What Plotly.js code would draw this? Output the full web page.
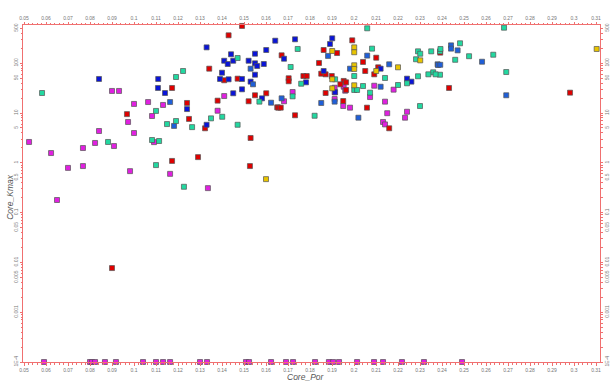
<!DOCTYPE html>
<html><head><meta charset="utf-8">
<script src="https://cdn.plot.ly/plotly-3.0.1.min.js"></script>
<style>html,body{margin:0;padding:0;background:#fff}#chart{width:610px;height:381px}</style>
</head><body><div id="chart"></div>
<script>
// ---- data (Core_Por, Core_Kmax) ----
const magentaX = [0.0523,0.0623,0.0650,0.0700,0.0768,0.0768,0.0823,0.0841,0.0900,0.0932,0.0909,0.0973,0.0982,0.1000,0.1000,0.1064,0.1082,0.1091,0.1132,0.1164,0.1410,0.1380,0.1953,0.1960,0.2092,0.2180,0.1912,0.1912,0.2073,0.1721,0.1682,0.1912,0.1951,0.1982,0.2141,0.2241,0.2151,0.2232,0.2132,0.2141,0.1336,
  0.0591,0.0800,0.0809,0.0823,0.0868,0.0918,0.1041,0.1100,0.1132,0.1164,0.1300,0.1332,0.1509,0.1523,0.1623,0.1691,0.1723,0.1823,0.1886,0.1905,0.1932,0.2014,0.2091,0.2132,0.2218,0.2318,0.2491];
const magentaY = [2.62,1.57,0.179,0.79,0.86,1.98,2.5,4.35,27.7,27.7,2.17,6.6,0.68,15.2,3.96,16.6,8.7,2.6,14.5,0.6,21.9,11.1,33.7,28,35.3,29.4,32.2,26.1,20.9,26.4,17.2,19.1,13.8,12.8,16.9,10.6,9.9,8.05,6.6,5.9,0.31,
  0.0001,0.0001,0.0001,0.0001,0.0001,0.0001,0.0001,0.0001,0.0001,0.0001,0.0001,0.0001,0.0001,0.0001,0.0001,0.0001,0.0001,0.0001,0.0001,0.0001,0.0001,0.0001,0.0001,0.0001,0.0001,0.0001,0.0001];

const redX = [0.0900,0.0968,0.1173,0.1241,0.1250,0.1173,0.1430,0.1491,0.1342,0.1410,0.1471,0.1601,0.1550,0.1380,0.1521,0.1651,0.1323,0.1530,0.1992,0.1862,0.1923,0.2101,0.1671,0.1841,0.2041,0.2051,0.2110,0.2092,0.1851,0.1871,0.1770,0.1785,0.1899,0.1703,0.1703,0.1953,0.1964,0.1938,0.1964,0.1871,0.1656,0.1667,0.1951,0.2059,0.2160,0.1732,0.2392,0.2432,0.2982,0.1527,0.1291];
const redY = [0.0077,9.5,31.8,15.9,7.6,1.09,363,560,77.6,45.4,48.9,24.9,22.7,17.7,17.2,13,4.93,3.15,288,184,160,129,144,101,106,69.7,82.7,59.8,61.5,59.8,55.3,55.3,55.3,49.8,43.4,44,41.3,37.7,29,25.2,12.8,12.8,17.4,12.8,4.93,9.0,163,31.8,25.6,0.86,1.3];

const blueX = [0.0841,0.1110,0.1109,0.1141,0.1241,0.1330,0.1642,0.1601,0.1550,0.1441,0.1410,0.1451,0.1521,0.1426,0.1550,0.1560,0.1590,0.1400,0.1550,0.1391,0.1430,0.1491,0.1530,0.1491,0.1451,0.1582,0.1330,0.1732,0.1901,0.1891,0.1682,0.1862,0.2121,0.1782,0.1914,0.2241,0.2261];
const blueY = [48.2,48.2,31.8,25.2,12,208,283,184,155,151,112,112,112,96.3,99.5,87.9,96.3,64.4,58.7,48.2,47.5,48.2,42.6,29.9,24.9,19.7,5.8,302,316,243,123,69.7,77.6,41.3,26.1,48.9,42.6];

const medBlueX = [0.1164,0.1182,0.1530,0.1541,0.1623,0.2060,0.1882,0.2160,0.1982,0.2121,0.1671,0.1912,0.1851,0.2020,0.2380,0.2441,0.2441,0.2471,0.2382,0.2392,0.2582,0.2692];
const medBlueY = [16.6,5.5,77.6,37.7,16.1,142,140,95,77.6,33.7,19.7,16.9,15.9,8.05,95,228,196,181,92,93,107,22.7];

const greenX = [0.0582,0.0882,0.1100,0.1082,0.1114,0.1100,0.1150,0.1191,0.1191,0.1223,0.1264,0.1471,0.1570,0.1401,0.1350,0.1471,0.2060,0.1744,0.2082,0.1712,0.2001,0.2141,0.1760,0.1914,0.2001,0.2014,0.2041,0.2200,0.2073,0.1721,0.2241,0.2291,0.2300,0.1821,0.2291,0.2301,0.2351,0.2282,0.2391,0.2391,0.2360,0.2338,0.2371,0.2682,0.2393,0.2482,0.2523,0.2633,0.2460,0.2692,0.1227];
const greenY = [25.2,2.62,11,2.87,2.74,0.9,6.0,6.9,52.8,69.7,5.2,127,16.9,8.4,7.8,5.8,502,193,196,83.9,55.3,50.5,38.7,47.5,29,29,34.8,36.5,25.6,21.6,39.5,54.6,13.8,8.8,173,155,173,120,173,58.7,65.6,59.8,59.8,516,193,251,138,148,117,66.5,0.33];

const goldX = [0.2001,0.2001,0.1901,0.2001,0.2001,0.2101,0.2200,0.1901,0.2001,0.1901,0.2301,0.3103,0.1600];
const goldY = [208,166,176,90.8,76.6,69.7,82.7,47.5,36,31.3,114,193,0.47];

const yTickVals = [0.0001,0.001,0.005,0.01,0.05,0.1,0.5,1,5,10,50,100,500];
const yTickText = ['1E-4','0.001','0.005','0.01','0.05','0.1','0.5','1','5','10','50','100','500'];
const xTickVals = [0.05,0.06,0.07,0.08,0.09,0.1,0.11,0.12,0.13,0.14,0.15,0.16,0.17,0.18,0.19,0.2,0.21,0.22,0.23,0.24,0.25,0.26,0.27,0.28,0.29,0.3,0.31];
const xTickText = ['0.05','0.06','0.07','0.08','0.09','0.1','0.11','0.12','0.13','0.14','0.15','0.16','0.17','0.18','0.19','0.2','0.21','0.22','0.23','0.24','0.25','0.26','0.27','0.28','0.29','0.3','0.31'];

// ---- styling ----
const axisRed = '#f07070';
const tickGray = '#777';
function series(x, y, color) {
  return {type:'scatter', mode:'markers', x:x, y:y, cliponaxis:false, hoverinfo:'x+y',
    marker:{symbol:'square', size:5, color:color, line:{color:'#555', width:0.7}}, showlegend:false};
}
const data = [
  series(magentaX, magentaY, '#e020e0'),
  series(redX, redY, '#e00000'),
  series(blueX, blueY, '#0a14d8'),
  series(medBlueX, medBlueY, '#1f5fd8'),
  series(greenX, greenY, '#22d8a0'),
  series(goldX, goldY, '#e8c400'),
  {type:'scatter', mode:'markers', x:[null], y:[null], xaxis:'x2', yaxis:'y2', showlegend:false, hoverinfo:'skip'}
];

const xMinor = []; for (let i = 0; i <= 135; i++) xMinor.push(+(0.05 + i*0.002).toFixed(4));
const yMinor = []; for (let e = -4; e < 3; e++) for (let m = 2; m <= 9; m++) yMinor.push(m*Math.pow(10,e));

const xRange = [0.05 - 1/2200, 0.05 + 576/2200];
const yRange = [-4, 2.767];
const tickFont = {family:'Liberation Sans, Arial, sans-serif', size:5, color:tickGray};

const xCommon = {range:xRange, tickmode:'array', tickvals:xTickVals, ticktext:xTickText,
  showgrid:false, zeroline:false, showline:true, linecolor:axisRed, linewidth:1,
  ticks:'outside', ticklen:2.5, tickcolor:axisRed, tickfont:tickFont,
  minor:{tickmode:'array', tickvals:xMinor, ticks:'outside', ticklen:1.5, tickcolor:axisRed, showgrid:false}};
const yCommon = {type:'log', range:yRange, tickmode:'array', tickvals:yTickVals, ticktext:yTickText, tickangle:-90,
  showgrid:false, zeroline:false, showline:true, linecolor:axisRed, linewidth:1,
  ticks:'outside', ticklen:2, tickcolor:axisRed, tickfont:tickFont,
  minor:{tickmode:'array', tickvals:yMinor, ticks:'outside', ticklen:1.5, tickcolor:axisRed, showgrid:false}};

const titleFont = {family:'Liberation Sans, Arial, sans-serif', size:8.5, color:'#555', style:'italic'};
const layout = {
  width:610, height:381, margin:{l:23, r:10, t:25, b:19},
  paper_bgcolor:'#fff', plot_bgcolor:'#fff', showlegend:false,
  xaxis:Object.assign({}, xCommon, {side:'bottom'}),
  xaxis2:Object.assign({}, xCommon, {side:'top', overlaying:'x', anchor:'y'}),
  yaxis:Object.assign({}, yCommon, {side:'left'}),
  yaxis2:Object.assign({}, yCommon, {side:'right', overlaying:'y', anchor:'x'}),
  annotations:[
    {text:'Core_Por', xref:'paper', yref:'paper', x:0.49, y:0, yshift:-14.5, xanchor:'center', yanchor:'middle', showarrow:false, font:titleFont, borderpad:0},
    {text:'Core_Kmax', xref:'paper', yref:'paper', x:0, xshift:-13, y:0.49, xanchor:'center', yanchor:'middle', textangle:-90, showarrow:false, font:titleFont, borderpad:0}
  ],
  font:{family:'Liberation Sans, Arial, sans-serif'}
};

Plotly.newPlot('chart', data, layout, {displayModeBar:false, staticPlot:true});
</script></body></html>
